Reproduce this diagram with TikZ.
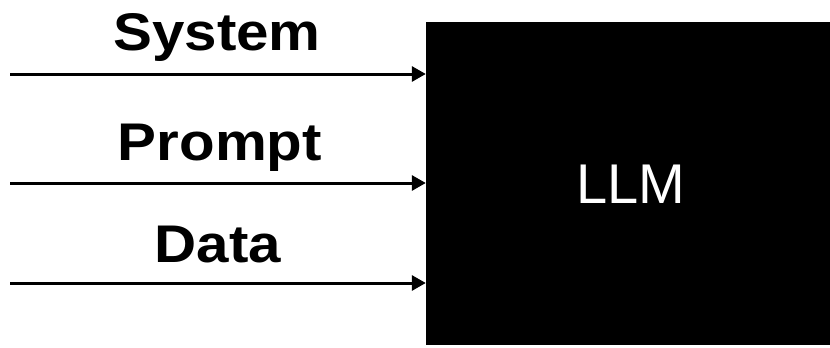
\documentclass[tikz,border=0pt]{standalone}
\usepackage{fontspec}
\setmainfont{Liberation Sans}
\usetikzlibrary{arrows.meta}
\begin{document}
\begin{tikzpicture}[x=1pt,y=-1pt,
  inarrow/.style={line width=3pt,-{Triangle[length=14pt,width=15pt]}},
  lbl/.style={anchor=base,inner sep=0pt,font=\fontsize{53}{60}\selectfont\bfseries},
  llmbox/.style={fill=black,draw=none,minimum width=404pt,minimum height=323.5pt,inner sep=0pt}]
\useasboundingbox (0,0) rectangle (830,348);
\node[llmbox] (llm) at (628,183.5) {};
\node[anchor=base,inner sep=0pt,text=white,font=\fontsize{56}{60}\selectfont] (t) at (631,203) {LLM};
\coordinate (s0) at (10,74);
\coordinate (p0) at (10,183);
\coordinate (d0) at (10,283);
\draw[inarrow] (s0) -- (s0 -| llm.west);
\draw[inarrow] (p0) -- (p0 -| llm.west);
\draw[inarrow] (d0) -- (d0 -| llm.west);
\node[lbl] (sys) at (217,50) {\scalebox{1.1}[1]{System}};
\node[lbl] (pr) at (220,160) {\scalebox{1.1}[1]{Prompt}};
\node[lbl] (da) at (218,262) {\scalebox{1.1}[1]{Data}};
\end{tikzpicture}
\end{document}
